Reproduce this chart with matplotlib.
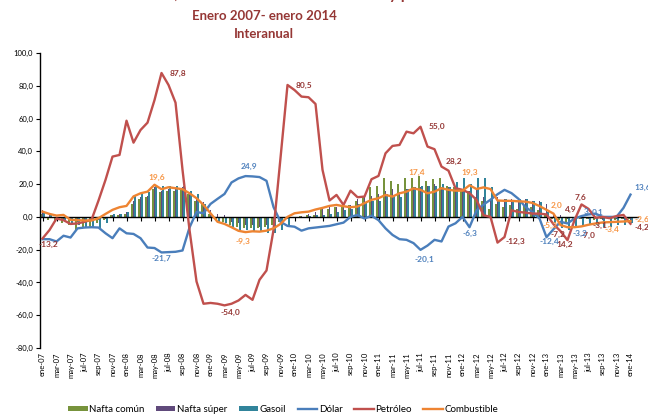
import matplotlib.pyplot as plt
import numpy as np

plt.rcParams['font.family'] = ['Lato', 'DejaVu Sans']

# variaciones interanuales (%), ene-07 a ene-14
nafta_comun = [2, -2, -3, -4, -5, -8, -7, -6, -4, -2, 1, 1,
               2, 8, 11, 12, 17, 15, 16, 16, 17, 14, 10, 8,
               2, -2, -3, -5, -6, -7, -7, -7, -6, -5, -3, -1,
               0, 0.5, 1, 1, 5, 5, 6, 6, 7, 10, 12, 18,
               19, 24, 22, 20, 24, 24, 25, 22, 23, 24, 19, 18,
               17, 16, 12, 10, 5, 8, 6, 7, 5, 7, 6, 4,
               2, -1, -2, -3, -2, -1, -1, -2, -1, -1, -2, -1,
               -1]
nafta_super = [4, 1, -1, -2, -2, -3, -3, -2, -2, -1, 1, 2,
               3, 10, 12, 13, 18, 16, 17, 17, 18, 15, 12, 9,
               4, 2, 1, -3, -4, -5, -5, -6, -5, -4, -2, -1,
               0, 0.5, 2, 3, 6, 6, 6, 7, 7, 11, 12, 13,
               14, 16, 17, 15, 17, 18, 18, 19, 20, 18, 18, 17,
               16, 16, 17, 12, 11, 12, 11, 11, 10, 11, 10, 10,
               8, 2, 1, -1, -2, -1, -1, -1, -2, -1, -1, -1,
               -2]
gasoil = [3, 1, -1, -2, -4, -5, -6, -6, -7, -4, 2, 2,
          3, 13, 14, 15, 19, 19, 19, 19, 19, 16, 14, 8,
          1, -3, -4, -6, -8, -8, -9, -9, -10, -10, -8, -5,
          0, 0, 0.5, 1, 1, 2, 3, 4, 5, 8, 9, 10,
          10, 14, 13, 12, 17, 18, 19, 19, 19, 20, 18, 21,
          24, 20, 24, 24, 18, 10, 11, 10, 11, 11, 10, 9,
          3, -4, -7, -8, -6, -5, -5, -5, -6, -6, -5, -5,
          -4]
dolar = [-13.6, -13.6, -15, -11.5, -12.6, -7, -6.5, -6.3, -6.5, -10, -13, -7,
         -10, -10.4, -13, -18.7, -19, -21.7, -21.5, -21.3, -20.5, -6.5, 3, 2.2,
         7.9, 11, 14, 21, 23.5, 24.9, 24.7, 24.3, 22, 6, -3, -5.5,
         -6, -8.4, -7, -6.5, -6, -5.5, -4.5, -3.5, 0, 1.2, -1, 0.7,
         -2, -7, -11, -13.6, -14, -16, -20.1, -17.5, -14, -15, -5.9, -3.9,
         0, -6.3, 4, 7.5, 10.5, 13.8, 16.5, 14.5, 11, 6, 3, -1,
         -12.4, -7.5, -3, -4, -1, 0.5, 1.5, 2, 0, 0, 0, 5.5,
         13.6]
petroleo = [-13.2, -8, -1, -2, -4.3, -4, -3, -1.8, 10, 22.6, 36.8, 37.8,
            58.7, 45.3, 53, 57.5, 71.3, 87.8, 80.5, 69.7, 28.7, -8, -39.4, -53,
            -52.5, -53, -54, -53, -51, -47.6, -50.6, -38.4, -32.7, -8, 36, 80.5,
            77.4, 73.4, 73, 68.9, 28.7, 10, 13.4, 7.3, 16, 12, 12.4, 23,
            25, 38.8, 43.3, 43.9, 52, 51, 55, 42.9, 41.3, 30.7, 28.2, 17.5,
            16.5, 14.5, 10.4, 1, 0, -15.7, -12.3, 4, 3, 2.6, 2, 2,
            1.5, -4.5, -8.7, -14.2, -2, 7.6, 4.9, -0.6, 0, -0.8, 0.5, 1.2,
            -4.2]
combustible = [3.2, 1.8, 0.8, 1.2, -1.8, -2, -2.2, -2.2, -0.8, 1.8, 4.3, 5.9,
               6.7, 12.5, 14.4, 15.4, 19.6, 16.9, 18.1, 17.5, 16.9, 14.4, 11.4, 7.3,
               2.2, -3, -4.3, -6.3, -8.5, -9.3, -8.8, -9, -8.4, -7, -4.3, 0,
               2.2, 2.8, 3.2, 4.5, 5.5, 6.7, 7.3, 6.5, 5.9, 6.3, 8.4, 10.4,
               11.4, 13.4, 12.4, 14.4, 15.4, 17.4, 16.5, 14.4, 15.4, 17.5, 16.5, 16,
               16, 19.3, 17, 18, 17, 10, 9.8, 9.8, 9.5, 9.3, 8.5, 6.6,
               4.3, 2.0, -5, -6.3, -6.3, -5.8, -4.8, -4, -3.4, -3.2, -3, -2.8,
               -2.6]

meses = ["ene", "feb", "mar", "abr", "may", "jun",
         "jul", "ago", "sep", "oct", "nov", "dic"]
todos = [m + "-" + str(a).zfill(2) for a in range(7, 15) for m in meses][:85]
etiquetas_x = todos[::2]

# etiquetas de datos: texto, posicion x (mes), posicion y, serie
etiquetas = [
    ("-13,2", 0.8, -17.1, "r"), ("87,8", 19.4, 87.8, "r"), ("80,5", 37.4, 80.5, "r"),
    ("-54,0", 26.9, -58.5, "r"), ("55,0", 56.4, 54.9, "r"), ("28,2", 58.8, 34.1, "r"),
    ("-12,3", 67.5, -15.2, "r"), ("14,2", 74.6, -17.1, "r"), ("4,9", 75.5, 4.3, "r"),
    ("7,6", 76.9, 11.6, "r"), ("-7,0", 77.9, -11.6, "r"), ("-7,2", 73.6, -11, "r"),
    ("-3,1", 79.6, -5.5, "r"),
    ("-21,7", 17.0, -25.6, "b"), ("24,9", 29.5, 30.5, "b"), ("-20,1", 54.5, -26.2, "b"),
    ("-6,3", 61.1, -9.8, "b"), ("-12,4", 72.4, -15.2, "b"), ("-3,2", 76.8, -9.8, "b"),
    ("3", 77.6, 3, "b"), ("0,1", 79.3, 3, "b"),
    ("19,6", 16.3, 23.8, "o"), ("-9,3", 28.7, -15.2, "o"), ("17,4", 53.4, 27.4, "o"),
    ("19,3", 61.1, 27.4, "o"), ("2,0", 73.4, 6.7, "o"), ("-5,3", 72.5, -5.5, "o"),
    ("-3,4", 81.3, -7.9, "o"),
]
# etiquetas del ultimo mes (cortadas en el borde)
etiquetas_fin = [("13,6", 17.7, "b"), ("-2,6", -1.8, "o"), ("-4,2", -6.7, "r")]

col_lbl = {"r": "#953735", "b": "#4F81BD", "o": "#F79646"}

fig = plt.figure(figsize=(6.48, 4.16), dpi=100)
ax = fig.add_axes([40/648, 1-348/416, 597.5/648, 295/416])

x = np.arange(len(combustible))
w = 0.22
b1 = ax.bar(x - 0.25, nafta_comun, w, color="#77933C", label="Nafta común", zorder=2)
b2 = ax.bar(x, nafta_super, w, color="#604A7B", label="Nafta súper", zorder=2)
b3 = ax.bar(x + 0.25, gasoil, w, color="#31849B", label="Gasoil", zorder=2)
l1, = ax.plot(x, dolar, color="#4A7EBB", lw=1.7, label="Dólar", zorder=3)
l2, = ax.plot(x, petroleo, color="#C0504D", lw=1.7, label="Petróleo", zorder=3)
l3, = ax.plot(x, combustible, color="#EE8432", lw=1.7, label="Combustible", zorder=4)

for txt, xi, yi, s in etiquetas:
    ax.text(xi, yi, txt, color=col_lbl[s], fontsize=6, fontweight="bold",
            ha="center", va="center", zorder=5)
for txt, yi, s in etiquetas_fin:
    ax.text(x[-1] + 0.6, yi, txt, color=col_lbl[s], fontsize=6, fontweight="bold",
            ha="left", va="center", zorder=5, clip_on=False)

ax.set_xlim(-0.36, 85)
ax.set_ylim(-80, 100)
yt = np.arange(-80, 101, 20)
ax.set_yticks(yt)
ax.set_yticklabels([("%.1f" % v).replace(".", ",") for v in yt], fontsize=5.5)
ax.tick_params(axis="y", length=3, width=0.8, pad=2)

for s in ["top", "right"]:
    ax.spines[s].set_visible(False)
ax.spines["bottom"].set_position(("data", 0))
ax.spines["bottom"].set_linewidth(1)
ax.spines["left"].set_linewidth(1)
ax.set_xticks(x[::2])
ax.tick_params(axis="x", length=3, width=0.8, labelbottom=False)

sec = ax.secondary_xaxis(0.0)
sec.set_xticks(x[::2])
sec.set_xticklabels(etiquetas_x, rotation=90, fontsize=5.5)
sec.tick_params(length=0, pad=3)
sec.spines["bottom"].set_visible(False)

fig.text(270/648, 1 + 0.5/416, "Combustibles, tasa de cambio nominal oficial y petróleo",
         ha="center", va="baseline", fontsize=11, fontweight="bold", color="#953735")
fig.text(264/648, 1 - 15.5/416, "Enero 2007- enero 2014", ha="center", va="center",
         fontsize=9.5, fontweight="bold", color="#953735")
fig.text(264/648, 1 - 34/416, "Interanual", ha="center", va="center",
         fontsize=9.5, fontweight="bold", color="#953735")

fig.legend(handles=[b1, b2, b3, l1, l2, l3], loc="center",
           bbox_to_anchor=(283/648, 0.016), ncol=6, frameon=False,
           fontsize=7, handlelength=2.0, handleheight=0.5, handletextpad=0.15,
           columnspacing=1.2)

fig.savefig("out.png", dpi=100)
